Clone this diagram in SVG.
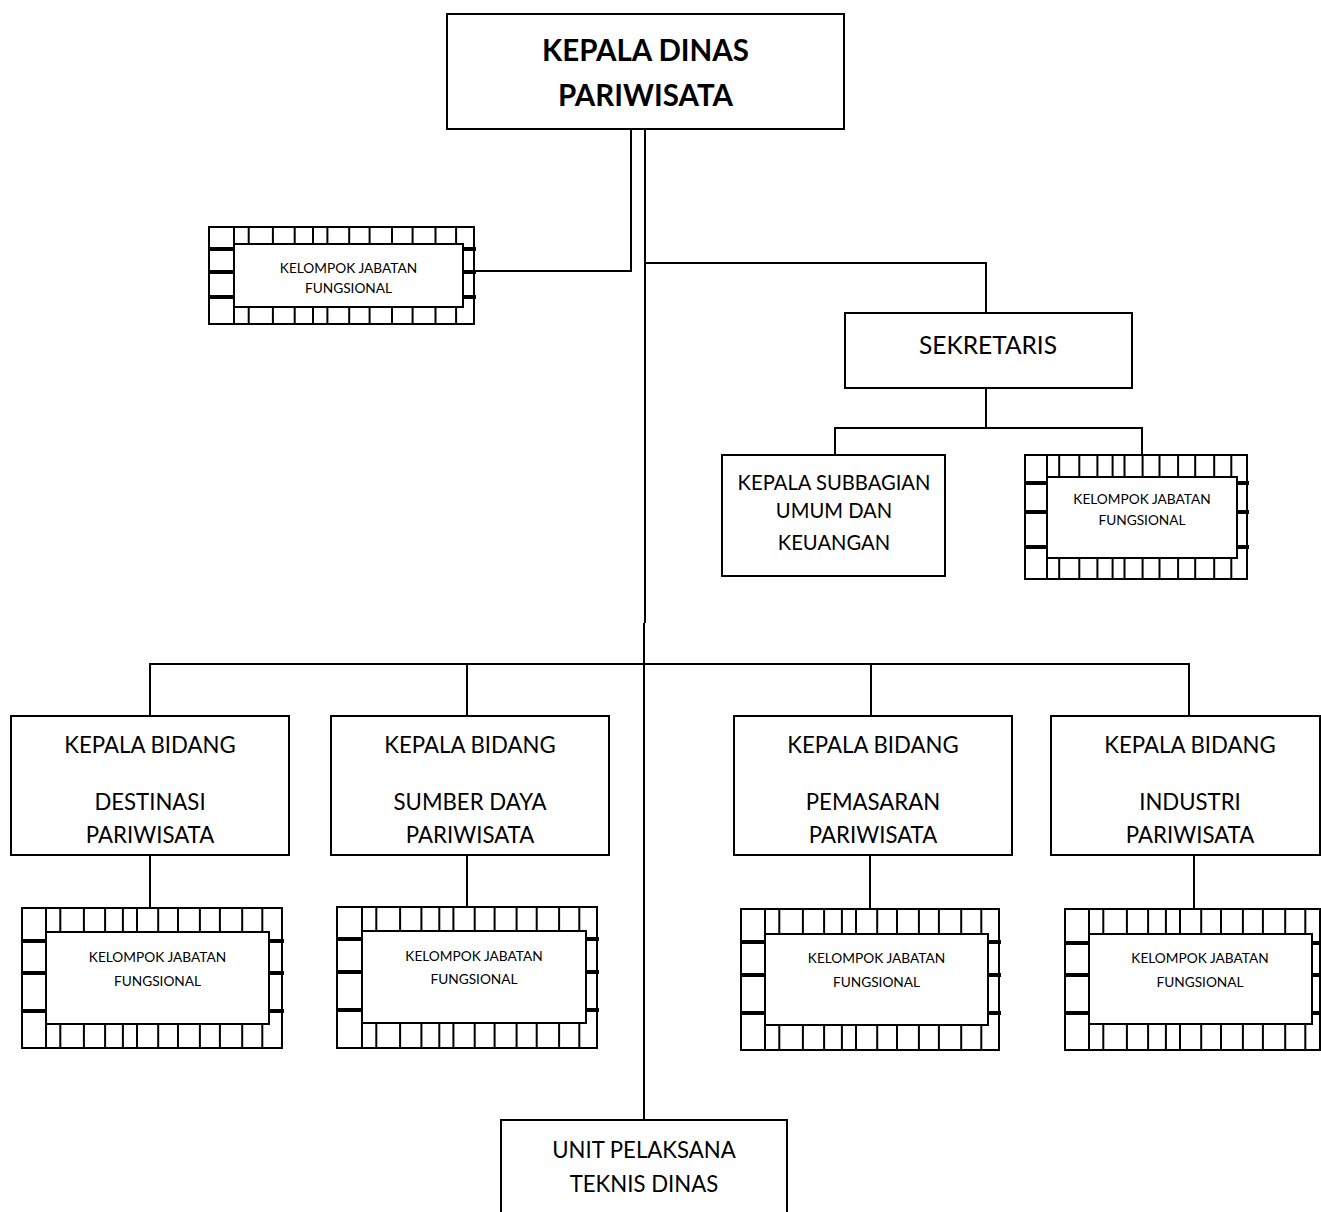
<svg xmlns="http://www.w3.org/2000/svg" width="1321" height="1212" viewBox="0 0 1321 1212">
<style>
  .box { fill: #fff; stroke: #000; stroke-width: 2; }
  .ln { fill: none; stroke: #000; stroke-width: 2; }
  .tk { fill: none; stroke: #000; stroke-width: 2; }
  .th { fill: none; stroke: #000; stroke-width: 4; }
  text { font-family: Lato, "Open Sans", "Liberation Sans", sans-serif; fill: #000; text-anchor: middle; }
  .t1 { font-size: 29.5px; font-weight: bold; }
  .t2 { font-size: 24.5px; }
  .t3 { font-size: 22.2px; }
  .t5 { font-size: 20.2px; }
  .t4 { font-size: 13.7px; }
</style>
<rect width="1321" height="1212" fill="#fff"/>

<g id="connectors">
  <path class="ln" d="M631 129 V271 H474"/>
  <path class="ln" d="M645 129 V623"/>
  <path class="ln" d="M644 623 V1120"/>
  <path class="ln" d="M645 263 H986 V313"/>
  <path class="ln" d="M986 388 V428"/>
  <path class="ln" d="M835 455 V428 H1142 V455"/>
  <path class="ln" d="M150 716 V664 H1189 V716"/>
  <path class="ln" d="M467 664 V716"/>
  <path class="ln" d="M871 664 V716"/>
  <path class="ln" d="M150 855 V908"/>
  <path class="ln" d="M467 855 V907"/>
  <path class="ln" d="M870 855 V909"/>
  <path class="ln" d="M1194 855 V909"/>
</g>

<g id="kepala-dinas">
  <rect class="box" x="447" y="14" width="397" height="115"/>
  <text class="t1" x="645.5" y="61">KEPALA DINAS</text>
  <text class="t1" x="645.5" y="106">PARIWISATA</text>
</g>

<g id="kjf-kepala">
  <rect class="box" x="209" y="227" width="265" height="97"/>
  <path class="tk" d="M234 227V244M248.7 227V244M272.9 227V244M294.7 227V244M313 227V244M327.4 227V244M349.2 227V244M369.6 227V244M392 227V244M412.6 227V244M435.5 227V244M456.1 227V244M234 307V324M248.7 307V324M272.9 307V324M294.7 307V324M313 307V324M327.4 307V324M349.2 307V324M369.6 307V324M392 307V324M412.6 307V324M435.5 307V324M456.1 307V324"/>
  <path class="th" d="M209 249H234M209 272H234M209 297H234M463 249H476M463 272H476M463 297H476"/>
  <rect class="box" x="234" y="244" width="229" height="63"/>
  <text class="t4" x="348.5" y="273">KELOMPOK JABATAN</text>
  <text class="t4" x="348.5" y="293">FUNGSIONAL</text>
</g>

<g id="sekretaris">
  <rect class="box" x="845" y="313" width="287" height="75"/>
  <text class="t2" x="988" y="354">SEKRETARIS</text>
</g>

<g id="subbagian">
  <rect class="box" x="722" y="455" width="223" height="121"/>
  <text class="t5" x="834" y="490">KEPALA SUBBAGIAN</text>
  <text class="t5" x="834" y="518">UMUM DAN</text>
  <text class="t5" x="834" y="550">KEUANGAN</text>
</g>

<g id="kjf-sekretaris">
  <rect class="box" x="1025" y="455" width="222" height="124"/>
  <path class="tk" d="M1047 455V477M1059.2 455V477M1079.3 455V477M1097.4 455V477M1112.6 455V477M1124.5 455V477M1142.6 455V477M1159.5 455V477M1178.1 455V477M1195.2 455V477M1214.2 455V477M1231.3 455V477M1047 558V579M1059.2 558V579M1079.3 558V579M1097.4 558V579M1112.6 558V579M1124.5 558V579M1142.6 558V579M1159.5 558V579M1178.1 558V579M1195.2 558V579M1214.2 558V579M1231.3 558V579"/>
  <path class="th" d="M1025 483H1047M1025 512H1047M1025 547H1047M1237 483H1249M1237 512H1249M1237 547H1249"/>
  <rect class="box" x="1047" y="477" width="190" height="81"/>
  <text class="t4" x="1142" y="504">KELOMPOK JABATAN</text>
  <text class="t4" x="1142" y="525">FUNGSIONAL</text>
</g>

<g id="bidang-destinasi">
  <rect class="box" x="11" y="716" width="278" height="139"/>
  <text class="t3" x="150" y="753">KEPALA BIDANG</text>
  <text class="t3" x="150" y="810">DESTINASI</text>
  <text class="t3" x="150" y="843">PARIWISATA</text>
</g>

<g id="bidang-sumber-daya">
  <rect class="box" x="331" y="716" width="278" height="139"/>
  <text class="t3" x="470" y="753">KEPALA BIDANG</text>
  <text class="t3" x="470" y="810">SUMBER DAYA</text>
  <text class="t3" x="470" y="843">PARIWISATA</text>
</g>

<g id="bidang-pemasaran">
  <rect class="box" x="734" y="716" width="278" height="139"/>
  <text class="t3" x="873" y="753">KEPALA BIDANG</text>
  <text class="t3" x="873" y="810">PEMASARAN</text>
  <text class="t3" x="873" y="843">PARIWISATA</text>
</g>

<g id="bidang-industri">
  <rect class="box" x="1051" y="716" width="269" height="139"/>
  <text class="t3" x="1190" y="753">KEPALA BIDANG</text>
  <text class="t3" x="1190" y="810">INDUSTRI</text>
  <text class="t3" x="1190" y="843">PARIWISATA</text>
</g>

<g id="kjf-destinasi">
  <rect class="box" x="22" y="908" width="260" height="140"/>
  <path class="tk" d="M46 908V932M60.3 908V932M83.9 908V932M105.1 908V932M122.9 908V932M137 908V932M158.2 908V932M178 908V932M199.9 908V932M219.9 908V932M242.2 908V932M262.3 908V932M46 1024V1048M60.3 1024V1048M83.9 1024V1048M105.1 1024V1048M122.9 1024V1048M137 1024V1048M158.2 1024V1048M178 1024V1048M199.9 1024V1048M219.9 1024V1048M242.2 1024V1048M262.3 1024V1048"/>
  <path class="th" d="M22 941H46M22 973H46M22 1011H46M269 941H284M269 973H284M269 1011H284"/>
  <rect class="box" x="46" y="932" width="223" height="92"/>
  <text class="t4" x="157.5" y="962">KELOMPOK JABATAN</text>
  <text class="t4" x="157.5" y="986">FUNGSIONAL</text>
</g>

<g id="kjf-sumber-daya">
  <rect class="box" x="337" y="907" width="260" height="141"/>
  <path class="tk" d="M362 907V931M376.3 907V931M400.1 907V931M421.4 907V931M439.3 907V931M453.4 907V931M474.7 907V931M494.6 907V931M516.6 907V931M536.7 907V931M559.1 907V931M579.3 907V931M362 1023V1048M376.3 1023V1048M400.1 1023V1048M421.4 1023V1048M439.3 1023V1048M453.4 1023V1048M474.7 1023V1048M494.6 1023V1048M516.6 1023V1048M536.7 1023V1048M559.1 1023V1048M579.3 1023V1048"/>
  <path class="th" d="M337 939H362M337 972H362M337 1010H362M586 939H599M586 972H599M586 1010H599"/>
  <rect class="box" x="362" y="931" width="224" height="92"/>
  <text class="t4" x="474" y="961">KELOMPOK JABATAN</text>
  <text class="t4" x="474" y="984">FUNGSIONAL</text>
</g>

<g id="kjf-pemasaran">
  <rect class="box" x="741" y="909" width="258" height="141"/>
  <path class="tk" d="M765 909V934M779.3 909V934M802.9 909V934M824.1 909V934M841.9 909V934M856 909V934M877.2 909V934M897 909V934M918.9 909V934M938.9 909V934M961.2 909V934M981.3 909V934M765 1025V1050M779.3 1025V1050M802.9 1025V1050M824.1 1025V1050M841.9 1025V1050M856 1025V1050M877.2 1025V1050M897 1025V1050M918.9 1025V1050M938.9 1025V1050M961.2 1025V1050M981.3 1025V1050"/>
  <path class="th" d="M741 942H765M741 975H765M741 1013H765M988 942H1001M988 975H1001M988 1013H1001"/>
  <rect class="box" x="765" y="934" width="223" height="91"/>
  <text class="t4" x="876.5" y="963">KELOMPOK JABATAN</text>
  <text class="t4" x="876.5" y="987">FUNGSIONAL</text>
</g>

<g id="kjf-industri">
  <rect class="box" x="1065" y="909" width="255" height="141"/>
  <path class="tk" d="M1089 909V934M1103.3 909V934M1126.9 909V934M1148.1 909V934M1165.9 909V934M1180 909V934M1201.2 909V934M1221 909V934M1242.9 909V934M1262.9 909V934M1285.2 909V934M1305.3 909V934M1089 1024V1050M1103.3 1024V1050M1126.9 1024V1050M1148.1 1024V1050M1165.9 1024V1050M1180 1024V1050M1201.2 1024V1050M1221 1024V1050M1242.9 1024V1050M1262.9 1024V1050M1285.2 1024V1050M1305.3 1024V1050"/>
  <path class="th" d="M1065 943H1089M1065 975H1089M1065 1013H1089M1312 943H1321M1312 975H1321M1312 1013H1321"/>
  <rect class="box" x="1089" y="934" width="223" height="90"/>
  <text class="t4" x="1200" y="963">KELOMPOK JABATAN</text>
  <text class="t4" x="1200" y="987">FUNGSIONAL</text>
</g>

<g id="upt">
  <rect class="box" x="501" y="1120" width="286" height="100"/>
  <text class="t3" x="644" y="1158">UNIT PELAKSANA</text>
  <text class="t3" x="644" y="1192">TEKNIS DINAS</text>
</g>
</svg>
